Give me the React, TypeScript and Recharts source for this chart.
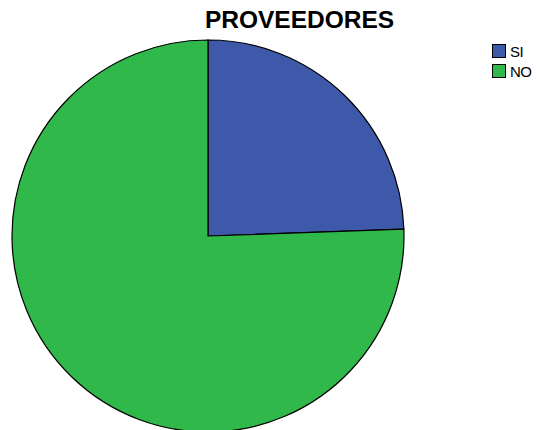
import React from "react";
import { PieChart, Pie, Cell } from "recharts";

const categories = ["SI", "NO"];
const values = [11, 34];
const colors = ["#3F59AA", "#30B84A"];

const data = categories.map((name, i) => ({ name, value: values[i] }));

export default function App() {
  return (
    <div style={{ position: "absolute", left: 0, top: 0, width: 537, height: 430, background: "#fff", overflow: "hidden", fontFamily: "'Liberation Sans', Arial, sans-serif" }}>
      <PieChart width={537} height={430} margin={{ top: 0, right: 0, bottom: 0, left: 0 }}>
        <text x={299.5} y={28} textAnchor="middle" fontSize={24.5} fontWeight="bold" fill="#000" fontFamily="'Liberation Sans', Arial, sans-serif">
          PROVEEDORES
        </text>
        <Pie
          data={data}
          dataKey="value"
          nameKey="name"
          cx={208}
          cy={236}
          outerRadius={196}
          innerRadius={0}
          startAngle={90}
          endAngle={-270}
          stroke="#000"
          strokeWidth={1.2}
          isAnimationActive={false}
          label={false}
          labelLine={false}
        >
          {data.map((d, i) => (
            <Cell key={d.name} fill={colors[i]} />
          ))}
        </Pie>
        {data.map((d, i) => (
          <g key={"lg" + d.name}>
            <rect x={492.5} y={44.5 + i * 20} width={13} height={13} fill={colors[i]} stroke="#000" strokeWidth={1} />
            <text x={510} y={57 + i * 20} fontSize={15} letterSpacing={-0.6} fill="#000" fontFamily="'Liberation Sans', Arial, sans-serif">
              {d.name}
            </text>
          </g>
        ))}
      </PieChart>
    </div>
  );
}
